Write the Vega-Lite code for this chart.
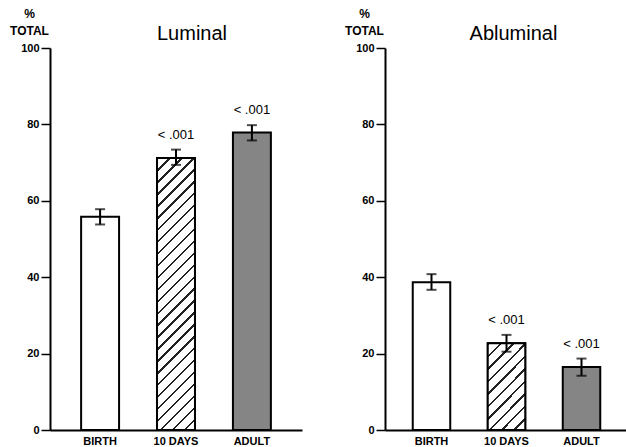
{
  "$schema": "https://vega.github.io/schema/vega-lite/v6.json",
  "background": "white",
  "padding": {"left": 9, "top": 7, "right": 0, "bottom": 0},
  "spacing": 42,
  "datasets": {
    "cells": [
      {"panel": "Luminal", "group": "BIRTH", "value": 55.8, "lo": 53.8, "hi": 57.8, "p": ""},
      {"panel": "Luminal", "group": "10 DAYS", "value": 71.2, "lo": 69.4, "hi": 73.4, "p": "< .001"},
      {"panel": "Luminal", "group": "ADULT", "value": 77.9, "lo": 75.8, "hi": 79.8, "p": "< .001"},
      {"panel": "Abluminal", "group": "BIRTH", "value": 38.7, "lo": 36.7, "hi": 40.8, "p": ""},
      {"panel": "Abluminal", "group": "10 DAYS", "value": 22.7, "lo": 20.5, "hi": 24.9, "p": "< .001"},
      {"panel": "Abluminal", "group": "ADULT", "value": 16.5, "lo": 14.2, "hi": 18.7, "p": "< .001"}
    ]
  },
  "config": {
    "view": {"stroke": null},
    "font": "Liberation Sans",
    "axis": {"grid": false, "domainColor": "black", "tickColor": "black", "labelColor": "black", "titleColor": "black"},
    "title": {"font": "Liberation Sans", "fontSize": 20, "fontWeight": "normal", "color": "black", "offset": -37, "frame": "group"}
  },
  "hconcat": [
    {
      "width": 252,
      "height": 382,
      "title": {"text": "Luminal", "dx": 16},
      "data": {"name": "cells"},
      "transform": [{"filter": "datum.panel === 'Luminal'"}],
      "encoding": {
        "x": {"field": "group", "type": "nominal", "sort": ["BIRTH", "10 DAYS", "ADULT"],
              "scale": {"paddingInner": 0.5, "paddingOuter": 0.41},
              "axis": {"title": null, "labelAngle": 0, "ticks": false, "domainWidth": 2, "labelFontWeight": "bold", "labelFontSize": 11, "labelPadding": 5, "labelFont": "Liberation Sans"}}
      },
      "layer": [
        {
          "mark": {"type": "bar", "stroke": "black", "strokeWidth": 2},
          "encoding": {
            "y": {"field": "value", "type": "quantitative", "scale": {"domain": [0, 100]},
                  "axis": {"values": [0, 20, 40, 60, 80, 100], "title": ["%", "TOTAL"], "titleAngle": 0, "titleAlign": "center", "titleBaseline": "alphabetic", "titleX": -21, "titleY": -31, "titleFontSize": 12, "titleFontWeight": "bold", "titleLineHeight": 17, "tickSize": 9, "tickWidth": 1.5, "domainWidth": 2, "labelFontWeight": "bold", "labelFontSize": 11, "labelPadding": 2}},
            "fill": {"field": "group", "type": "nominal", "scale": {"domain": ["BIRTH", "10 DAYS", "ADULT"], "range": ["white", "white", "#858585"]}, "legend": null}
          }
        },
        {
          "transform": [{"filter": "datum.group === '10 DAYS'"}],
          "mark": {"type": "bar", "stroke": "black", "strokeWidth": 2,
                   "fill": {"gradient": "linear", "x1": 0, "y1": 0, "x2": 0.156, "y2": 1.118,
                            "stops": [
                              {"offset": 0, "color": "#222"}, {"offset": 0.0077, "color": "#222"}, {"offset": 0.0077, "color": "white"}, {"offset": 0.0385, "color": "white"},
                              {"offset": 0.0385, "color": "#222"}, {"offset": 0.0462, "color": "#222"}, {"offset": 0.0462, "color": "white"}, {"offset": 0.0769, "color": "white"},
                              {"offset": 0.0769, "color": "#222"}, {"offset": 0.0846, "color": "#222"}, {"offset": 0.0846, "color": "white"}, {"offset": 0.1154, "color": "white"},
                              {"offset": 0.1154, "color": "#222"}, {"offset": 0.1231, "color": "#222"}, {"offset": 0.1231, "color": "white"}, {"offset": 0.1538, "color": "white"},
                              {"offset": 0.1538, "color": "#222"}, {"offset": 0.1615, "color": "#222"}, {"offset": 0.1615, "color": "white"}, {"offset": 0.1923, "color": "white"},
                              {"offset": 0.1923, "color": "#222"}, {"offset": 0.2, "color": "#222"}, {"offset": 0.2, "color": "white"}, {"offset": 0.2308, "color": "white"},
                              {"offset": 0.2308, "color": "#222"}, {"offset": 0.2385, "color": "#222"}, {"offset": 0.2385, "color": "white"}, {"offset": 0.2692, "color": "white"},
                              {"offset": 0.2692, "color": "#222"}, {"offset": 0.2769, "color": "#222"}, {"offset": 0.2769, "color": "white"}, {"offset": 0.3077, "color": "white"},
                              {"offset": 0.3077, "color": "#222"}, {"offset": 0.3154, "color": "#222"}, {"offset": 0.3154, "color": "white"}, {"offset": 0.3462, "color": "white"},
                              {"offset": 0.3462, "color": "#222"}, {"offset": 0.3538, "color": "#222"}, {"offset": 0.3538, "color": "white"}, {"offset": 0.3846, "color": "white"},
                              {"offset": 0.3846, "color": "#222"}, {"offset": 0.3923, "color": "#222"}, {"offset": 0.3923, "color": "white"}, {"offset": 0.4231, "color": "white"},
                              {"offset": 0.4231, "color": "#222"}, {"offset": 0.4308, "color": "#222"}, {"offset": 0.4308, "color": "white"}, {"offset": 0.4615, "color": "white"},
                              {"offset": 0.4615, "color": "#222"}, {"offset": 0.4692, "color": "#222"}, {"offset": 0.4692, "color": "white"}, {"offset": 0.5, "color": "white"},
                              {"offset": 0.5, "color": "#222"}, {"offset": 0.5077, "color": "#222"}, {"offset": 0.5077, "color": "white"}, {"offset": 0.5385, "color": "white"},
                              {"offset": 0.5385, "color": "#222"}, {"offset": 0.5462, "color": "#222"}, {"offset": 0.5462, "color": "white"}, {"offset": 0.5769, "color": "white"},
                              {"offset": 0.5769, "color": "#222"}, {"offset": 0.5846, "color": "#222"}, {"offset": 0.5846, "color": "white"}, {"offset": 0.6154, "color": "white"},
                              {"offset": 0.6154, "color": "#222"}, {"offset": 0.6231, "color": "#222"}, {"offset": 0.6231, "color": "white"}, {"offset": 0.6538, "color": "white"},
                              {"offset": 0.6538, "color": "#222"}, {"offset": 0.6615, "color": "#222"}, {"offset": 0.6615, "color": "white"}, {"offset": 0.6923, "color": "white"},
                              {"offset": 0.6923, "color": "#222"}, {"offset": 0.7, "color": "#222"}, {"offset": 0.7, "color": "white"}, {"offset": 0.7308, "color": "white"},
                              {"offset": 0.7308, "color": "#222"}, {"offset": 0.7385, "color": "#222"}, {"offset": 0.7385, "color": "white"}, {"offset": 0.7692, "color": "white"},
                              {"offset": 0.7692, "color": "#222"}, {"offset": 0.7769, "color": "#222"}, {"offset": 0.7769, "color": "white"}, {"offset": 0.8077, "color": "white"},
                              {"offset": 0.8077, "color": "#222"}, {"offset": 0.8154, "color": "#222"}, {"offset": 0.8154, "color": "white"}, {"offset": 0.8462, "color": "white"},
                              {"offset": 0.8462, "color": "#222"}, {"offset": 0.8538, "color": "#222"}, {"offset": 0.8538, "color": "white"}, {"offset": 0.8846, "color": "white"},
                              {"offset": 0.8846, "color": "#222"}, {"offset": 0.8923, "color": "#222"}, {"offset": 0.8923, "color": "white"}, {"offset": 0.9231, "color": "white"},
                              {"offset": 0.9231, "color": "#222"}, {"offset": 0.9308, "color": "#222"}, {"offset": 0.9308, "color": "white"}, {"offset": 0.9615, "color": "white"},
                              {"offset": 0.9615, "color": "#222"}, {"offset": 0.9692, "color": "#222"}, {"offset": 0.9692, "color": "white"}, {"offset": 1, "color": "white"}
                            ]}},
          "encoding": {"y": {"field": "value", "type": "quantitative"}}
        },
        {
          "mark": {"type": "rule", "color": "black", "strokeWidth": 2},
          "encoding": {"y": {"field": "lo", "type": "quantitative"}, "y2": {"field": "hi"}}
        },
        {
          "mark": {"type": "tick", "color": "black", "thickness": 2, "size": 10, "orient": "horizontal"},
          "encoding": {"y": {"field": "lo", "type": "quantitative"}}
        },
        {
          "mark": {"type": "tick", "color": "black", "thickness": 2, "size": 10, "orient": "horizontal"},
          "encoding": {"y": {"field": "hi", "type": "quantitative"}}
        },
        {
          "mark": {"type": "text", "baseline": "alphabetic", "dy": -11, "fontSize": 13, "color": "black"},
          "encoding": {"y": {"field": "hi", "type": "quantitative"}, "text": {"field": "p"}}
        }
      ]
    },
    {
      "width": 243,
      "height": 382,
      "title": {"text": "Abluminal", "dx": 7},
      "data": {"name": "cells"},
      "transform": [{"filter": "datum.panel === 'Abluminal'"}],
      "encoding": {
        "x": {"field": "group", "type": "nominal", "sort": ["BIRTH", "10 DAYS", "ADULT"],
              "scale": {"paddingInner": 0.5, "paddingOuter": 0.37},
              "axis": {"title": null, "labelAngle": 0, "ticks": false, "domainWidth": 2, "labelFontWeight": "bold", "labelFontSize": 11, "labelPadding": 5, "labelFont": "Liberation Sans"}}
      },
      "layer": [
        {
          "mark": {"type": "bar", "stroke": "black", "strokeWidth": 2},
          "encoding": {
            "y": {"field": "value", "type": "quantitative", "scale": {"domain": [0, 100]},
                  "axis": {"values": [0, 20, 40, 60, 80, 100], "title": ["%", "TOTAL"], "titleAngle": 0, "titleAlign": "center", "titleBaseline": "alphabetic", "titleX": -21, "titleY": -31, "titleFontSize": 12, "titleFontWeight": "bold", "titleLineHeight": 17, "tickSize": 9, "tickWidth": 1.5, "domainWidth": 2, "labelFontWeight": "bold", "labelFontSize": 11, "labelPadding": 2}},
            "fill": {"field": "group", "type": "nominal", "scale": {"domain": ["BIRTH", "10 DAYS", "ADULT"], "range": ["white", "white", "#858585"]}, "legend": null}
          }
        },
        {
          "transform": [{"filter": "datum.group === '10 DAYS'"}],
          "mark": {"type": "bar", "stroke": "black", "strokeWidth": 2,
                   "fill": {"gradient": "linear", "x1": 0, "y1": 0, "x2": 0.529, "y2": 1.206,
                            "stops": [
                              {"offset": 0, "color": "#222"}, {"offset": 0.02, "color": "#222"}, {"offset": 0.02, "color": "white"}, {"offset": 0.1, "color": "white"},
                              {"offset": 0.1, "color": "#222"}, {"offset": 0.12, "color": "#222"}, {"offset": 0.12, "color": "white"}, {"offset": 0.2, "color": "white"},
                              {"offset": 0.2, "color": "#222"}, {"offset": 0.22, "color": "#222"}, {"offset": 0.22, "color": "white"}, {"offset": 0.3, "color": "white"},
                              {"offset": 0.3, "color": "#222"}, {"offset": 0.32, "color": "#222"}, {"offset": 0.32, "color": "white"}, {"offset": 0.4, "color": "white"},
                              {"offset": 0.4, "color": "#222"}, {"offset": 0.42, "color": "#222"}, {"offset": 0.42, "color": "white"}, {"offset": 0.5, "color": "white"},
                              {"offset": 0.5, "color": "#222"}, {"offset": 0.52, "color": "#222"}, {"offset": 0.52, "color": "white"}, {"offset": 0.6, "color": "white"},
                              {"offset": 0.6, "color": "#222"}, {"offset": 0.62, "color": "#222"}, {"offset": 0.62, "color": "white"}, {"offset": 0.7, "color": "white"},
                              {"offset": 0.7, "color": "#222"}, {"offset": 0.72, "color": "#222"}, {"offset": 0.72, "color": "white"}, {"offset": 0.8, "color": "white"},
                              {"offset": 0.8, "color": "#222"}, {"offset": 0.82, "color": "#222"}, {"offset": 0.82, "color": "white"}, {"offset": 0.9, "color": "white"},
                              {"offset": 0.9, "color": "#222"}, {"offset": 0.92, "color": "#222"}, {"offset": 0.92, "color": "white"}, {"offset": 1, "color": "white"}
                            ]}},
          "encoding": {"y": {"field": "value", "type": "quantitative"}}
        },
        {
          "mark": {"type": "rule", "color": "black", "strokeWidth": 2},
          "encoding": {"y": {"field": "lo", "type": "quantitative"}, "y2": {"field": "hi"}}
        },
        {
          "mark": {"type": "tick", "color": "black", "thickness": 2, "size": 10, "orient": "horizontal"},
          "encoding": {"y": {"field": "lo", "type": "quantitative"}}
        },
        {
          "mark": {"type": "tick", "color": "black", "thickness": 2, "size": 10, "orient": "horizontal"},
          "encoding": {"y": {"field": "hi", "type": "quantitative"}}
        },
        {
          "mark": {"type": "text", "baseline": "alphabetic", "dy": -11, "fontSize": 13, "color": "black"},
          "encoding": {"y": {"field": "hi", "type": "quantitative"}, "text": {"field": "p"}}
        }
      ]
    }
  ]
}
